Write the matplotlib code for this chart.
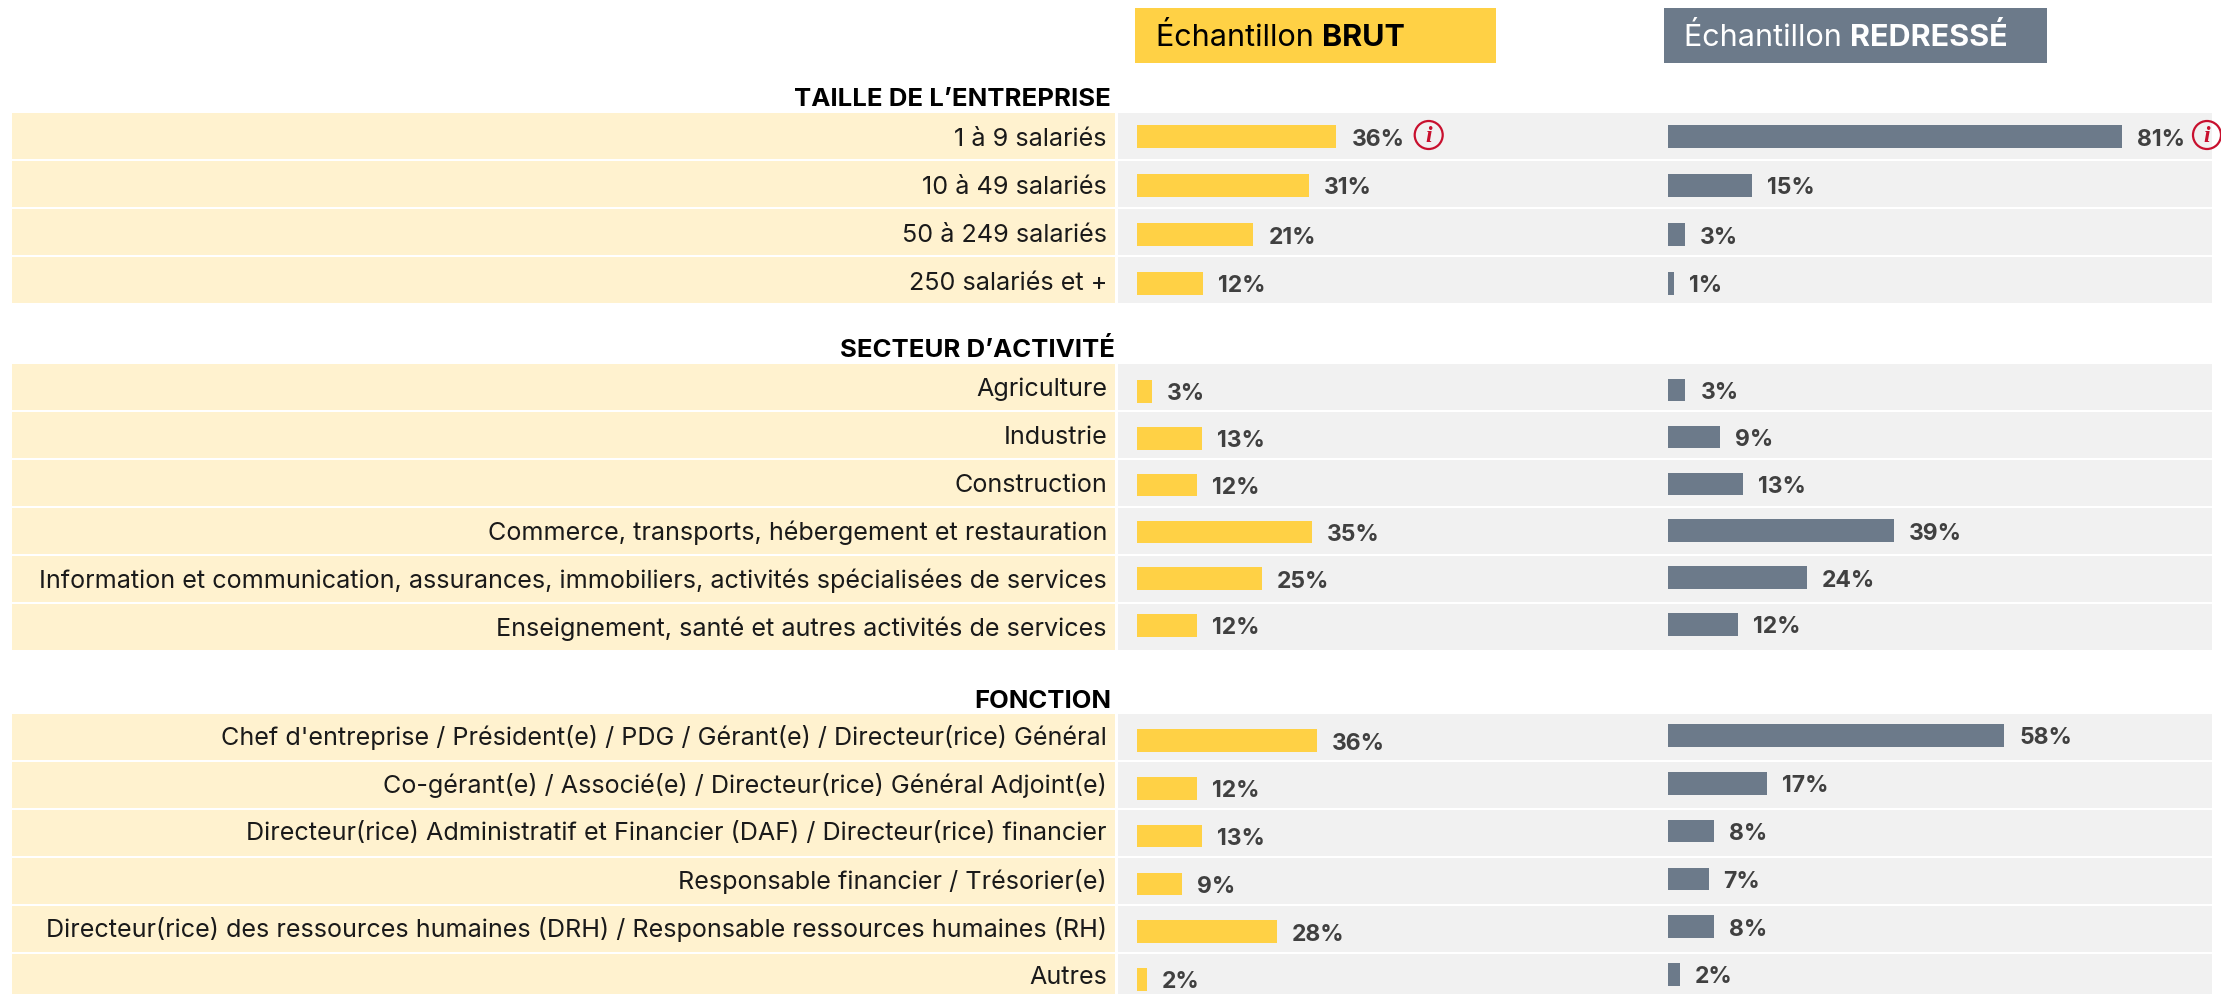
import matplotlib
matplotlib.use('Agg')
import matplotlib.pyplot as plt
from matplotlib.patches import Rectangle, Circle

W, H = 2221, 995

labels_taille = ['1 à 9 salariés', '10 à 49 salariés', '50 à 249 salariés', '250 salariés et +']
brut_taille = [36, 31, 21, 12]
redr_taille = [81, 15, 3, 1]

labels_secteur = ['Agriculture', 'Industrie', 'Construction',
                  'Commerce, transports, hébergement et restauration',
                  'Information et communication, assurances, immobiliers, activités spécialisées de services',
                  'Enseignement, santé et autres activités de services']
brut_secteur = [3, 13, 12, 35, 25, 12]
redr_secteur = [3, 9, 13, 39, 24, 12]

labels_fonction = ["Chef d'entreprise / Président(e) / PDG / Gérant(e) / Directeur(rice) Général",
                   'Co-gérant(e) / Associé(e) / Directeur(rice) Général Adjoint(e)',
                   'Directeur(rice) Administratif et Financier (DAF) / Directeur(rice) financier',
                   'Responsable financier / Trésorier(e)',
                   'Directeur(rice) des ressources humaines (DRH) / Responsable ressources humaines (RH)',
                   'Autres']
brut_fonction = [36, 12, 13, 9, 28, 2]
redr_fonction = [58, 17, 8, 7, 8, 2]

YELLOW = '#FFD145'
CREAM = '#FFF2CF'
LIGHT = '#F1F1F1'
SLATE = '#6C7A8A'
VALUE = '#404040'
RED = '#C8102E'

plt.rcParams['font.family'] = ['Inter', 'DejaVu Sans']

fig = plt.figure(figsize=(W / 100, H / 100), dpi=100)

# background axes in pixels, y going down
bg = fig.add_axes([0, 0, 1, 1])
bg.set_xlim(0, W)
bg.set_ylim(H, 0)
bg.axis('off')


def bars(values, color, x0, scale, y0, pitch):
    # one axes per column/section, the unit of x is one percent
    n = len(values)
    top = y0 - pitch / 2
    ax = fig.add_axes([x0 / W, 1 - (top + n * pitch) / H, (W - x0) / W, n * pitch / H])
    ax.barh(range(n), values, height=22.5 / pitch, color=color)
    ax.set_xlim(0, (W - x0) / scale)
    ax.set_ylim(n - 0.5, -0.5)
    ax.axis('off')
    for i, v in enumerate(values):
        ax.annotate(f'{v}%', (v, i), xytext=(15, -2), textcoords='offset pixels',
                    va='center', ha='left', fontsize=16.5, fontweight='bold', color=VALUE)


def section(title, title_x, title_y, labels, top, text_dy):
    bg.text(title_x, title_y, title, ha='right', va='center', fontsize=18.5, fontweight='bold', color='black')
    for i, lab in enumerate(labels):
        y = top + 48 * i
        bg.add_patch(Rectangle((12, y), 1103, 45.5, color=CREAM, lw=0))
        bg.add_patch(Rectangle((1118, y), 1094, 45.5, color=LIGHT, lw=0))
        bg.text(1107, y + 22.5 + text_dy, lab, ha='right', va='center', fontsize=18.1, color='#1a1a1a')


section("TAILLE DE L’ENTREPRISE", 1111, 100, labels_taille, 114, 3)
section("SECTEUR D’ACTIVITÉ", 1115, 350, labels_secteur, 365, 1.5)
section("FONCTION", 1111, 701, labels_fonction, 715, 0)

bars(brut_taille, YELLOW, 1137, 5.54, 137.5, 49)
bars(redr_taille, SLATE, 1668, 5.6, 137.5, 49)
bars(brut_secteur, YELLOW, 1137, 5.0, 392.5, 46.8)
bars(redr_secteur, SLATE, 1668, 5.8, 391, 46.9)
bars(brut_fonction, YELLOW, 1137, 5.0, 741.5, 47.8)
bars(redr_fonction, SLATE, 1668, 5.8, 736.5, 47.8)

# headers
bg.add_patch(Rectangle((1135, 9), 361, 55, color=YELLOW, lw=0))
bg.add_patch(Rectangle((1664, 9), 383, 55, color=SLATE, lw=0))
t1 = bg.text(1156, 46, 'Échantillon ', fontsize=22, color='black', va='baseline')
bg.annotate('BRUT', xy=(1, 0), xycoords=t1, fontsize=22, fontweight='bold', color='black', va='bottom')
t2 = bg.text(1684, 46, 'Échantillon ', fontsize=22, color='white', va='baseline')
bg.annotate('REDRESSÉ', xy=(1, 0), xycoords=t2, fontsize=22, fontweight='bold', color='white', va='bottom')

# info icons on the first row
for cx in [1428.7, 2207]:
    bg.add_patch(Circle((cx, 136), 14, fc='none', ec=RED, lw=1.6))
    bg.text(cx, 136, 'i', ha='center', va='center', fontsize=17, color=RED,
            family='Liberation Serif', style='italic', fontweight='bold')

fig.savefig('out.png', dpi=100)
